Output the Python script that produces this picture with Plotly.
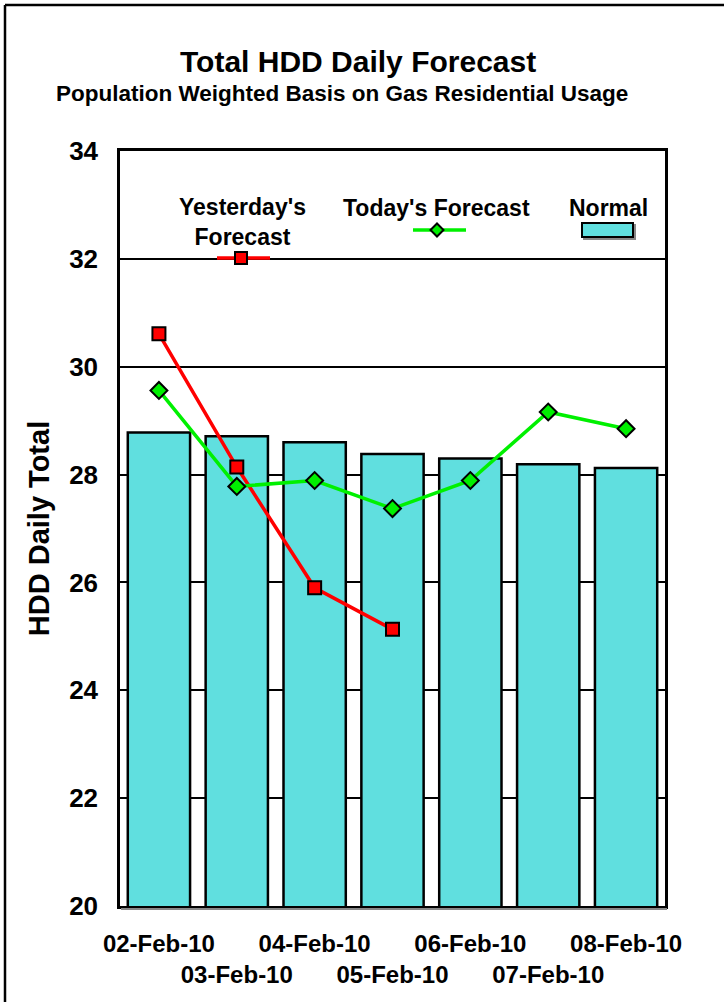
import plotly.graph_objects as go

categories = ["02-Feb-10", "03-Feb-10", "04-Feb-10", "05-Feb-10", "06-Feb-10", "07-Feb-10", "08-Feb-10"]
normal = [28.78, 28.71, 28.60, 28.38, 28.30, 28.19, 28.12]
yesterday = [30.61, 28.14, 25.90, 25.13]
today = [29.56, 27.78, 27.89, 27.37, 27.89, 29.16, 28.85]
y_ticks = [20, 22, 24, 26, 28, 30, 32, 34]

FONT = "Arial, Liberation Sans, sans-serif"
W, H = 724, 1002
L, R, T, B = 120, 59, 151, 96
PW, PH = W - L - R, H - T - B

def px(x):
    return (x - L) / PW

def py(y):
    return (H - B - y) / PH

CYAN = "#60DFDF"
RED = "#FF0000"
GREEN = "#00F000"

fig = go.Figure()
fig.add_trace(go.Bar(x=categories, y=normal, name="Normal", width=0.8,
                     marker=dict(color=CYAN, line=dict(color="black", width=2.5))))
fig.add_trace(go.Scatter(x=categories[:len(yesterday)], y=yesterday, mode="lines+markers",
                         name="Yesterday's Forecast", line=dict(color=RED, width=3.5),
                         marker=dict(symbol="square", size=13, color=RED, line=dict(color="black", width=2))))
fig.add_trace(go.Scatter(x=categories, y=today, mode="lines+markers", name="Today's Forecast",
                         line=dict(color=GREEN, width=3.5),
                         marker=dict(symbol="diamond", size=13, color=GREEN, line=dict(color="black", width=2))))

ticktext = [c if i % 2 == 0 else "<br>" + c for i, c in enumerate(categories)]

shapes = []
annotations = []
# outer frame (left and top edges visible)
shapes.append(dict(type="line", xref="paper", yref="paper", x0=px(5), x1=px(5), y0=py(1010), y1=py(5),
                   line=dict(color="black", width=2.5), layer="below"))
shapes.append(dict(type="line", xref="paper", yref="paper", x0=px(5), x1=px(730), y0=py(5), y1=py(5),
                   line=dict(color="black", width=2.5), layer="below"))
# plot area shadow
shapes.append(dict(type="line", xref="paper", yref="paper", x0=px(121), x1=px(667), y0=py(909), y1=py(909),
                   line=dict(color="#888888", width=2)))

LEG = 23
# legend: Yesterday's Forecast
annotations.append(dict(text="<b>Yesterday's<br>Forecast</b>", x=px(242), y=py(222), xref="paper", yref="paper",
                        showarrow=False, font=dict(family=FONT, size=LEG, color="black"), xanchor="center", yanchor="middle"))
shapes.append(dict(type="line", xref="paper", yref="paper", x0=px(217), x1=px(270), y0=py(258), y1=py(258),
                   line=dict(color=RED, width=3.5)))
shapes.append(dict(type="rect", xref="paper", yref="paper", x0=px(235), x1=px(247), y0=py(264), y1=py(252),
                   line=dict(color="black", width=2), fillcolor=RED))
# legend: Today's Forecast
annotations.append(dict(text="<b>Today's Forecast</b>", x=px(436), y=py(208), xref="paper", yref="paper",
                        showarrow=False, font=dict(family=FONT, size=LEG, color="black"), xanchor="center", yanchor="middle"))
shapes.append(dict(type="line", xref="paper", yref="paper", x0=px(413), x1=px(466), y0=py(230), y1=py(230),
                   line=dict(color=GREEN, width=3.5)))
cx, cy = px(437), py(230)
dx, dy = 6.5 / PW, 6.5 / PH
shapes.append(dict(type="path", xref="paper", yref="paper",
                   path=f"M {cx-dx},{cy} L {cx},{cy+dy} L {cx+dx},{cy} L {cx},{cy-dy} Z",
                   line=dict(color="black", width=2), fillcolor=GREEN))
# legend: Normal
annotations.append(dict(text="<b>Normal</b>", x=px(608), y=py(208), xref="paper", yref="paper",
                        showarrow=False, font=dict(family=FONT, size=LEG, color="black"), xanchor="center", yanchor="middle"))
shapes.append(dict(type="rect", xref="paper", yref="paper", x0=px(584), x1=px(635), y0=py(239), y1=py(225),
                   line=dict(color="#888888", width=2), fillcolor="#888888"))
shapes.append(dict(type="rect", xref="paper", yref="paper", x0=px(582), x1=px(633), y0=py(237), y1=py(223),
                   line=dict(color="black", width=2), fillcolor=CYAN))

# titles
annotations.append(dict(text="<b>Total HDD Daily Forecast</b>", x=px(358), y=py(61), xref="paper", yref="paper",
                        showarrow=False, font=dict(family=FONT, size=30, color="black"), xanchor="center", yanchor="middle"))
annotations.append(dict(text="<b>Population Weighted Basis on Gas Residential Usage</b>", x=px(342), y=py(94),
                        xref="paper", yref="paper", showarrow=False,
                        font=dict(family=FONT, size=22.5, color="black"), xanchor="center", yanchor="middle"))

fig.update_layout(
    width=W, height=H,
    margin=dict(l=L, r=R, t=T, b=B, pad=0, autoexpand=False),
    paper_bgcolor="white", plot_bgcolor="white",
    showlegend=False,
    shapes=shapes, annotations=annotations,
    font=dict(family=FONT, color="black"),
)
fig.update_xaxes(type="category", tickvals=categories, ticktext=ticktext, ticks="",
                 tickangle=0, automargin=False,
                 tickfont=dict(family=FONT, size=24, color="black", weight="bold"),
                 ticklabelstandoff=14,
                 showline=True, mirror=True, linecolor="black", linewidth=2.5, showgrid=False,
                 range=[-0.5, 6.5])
fig.update_yaxes(range=[20, 34], tickvals=y_ticks, ticks="", automargin=False,
                 tickfont=dict(family=FONT, size=26, color="black", weight="bold"),
                 ticklabelstandoff=14,
                 showline=True, mirror=True, linecolor="black", linewidth=2.5,
                 showgrid=True, gridcolor="black", gridwidth=2, zeroline=False,
                 title=dict(text="<b>HDD Daily Total</b>", font=dict(family=FONT, size=29, color="black"), standoff=11))

fig.write_html("out.html", config={"displayModeBar": False},
               post_script="document.body.style.margin='0';document.body.style.overflow='hidden';")
